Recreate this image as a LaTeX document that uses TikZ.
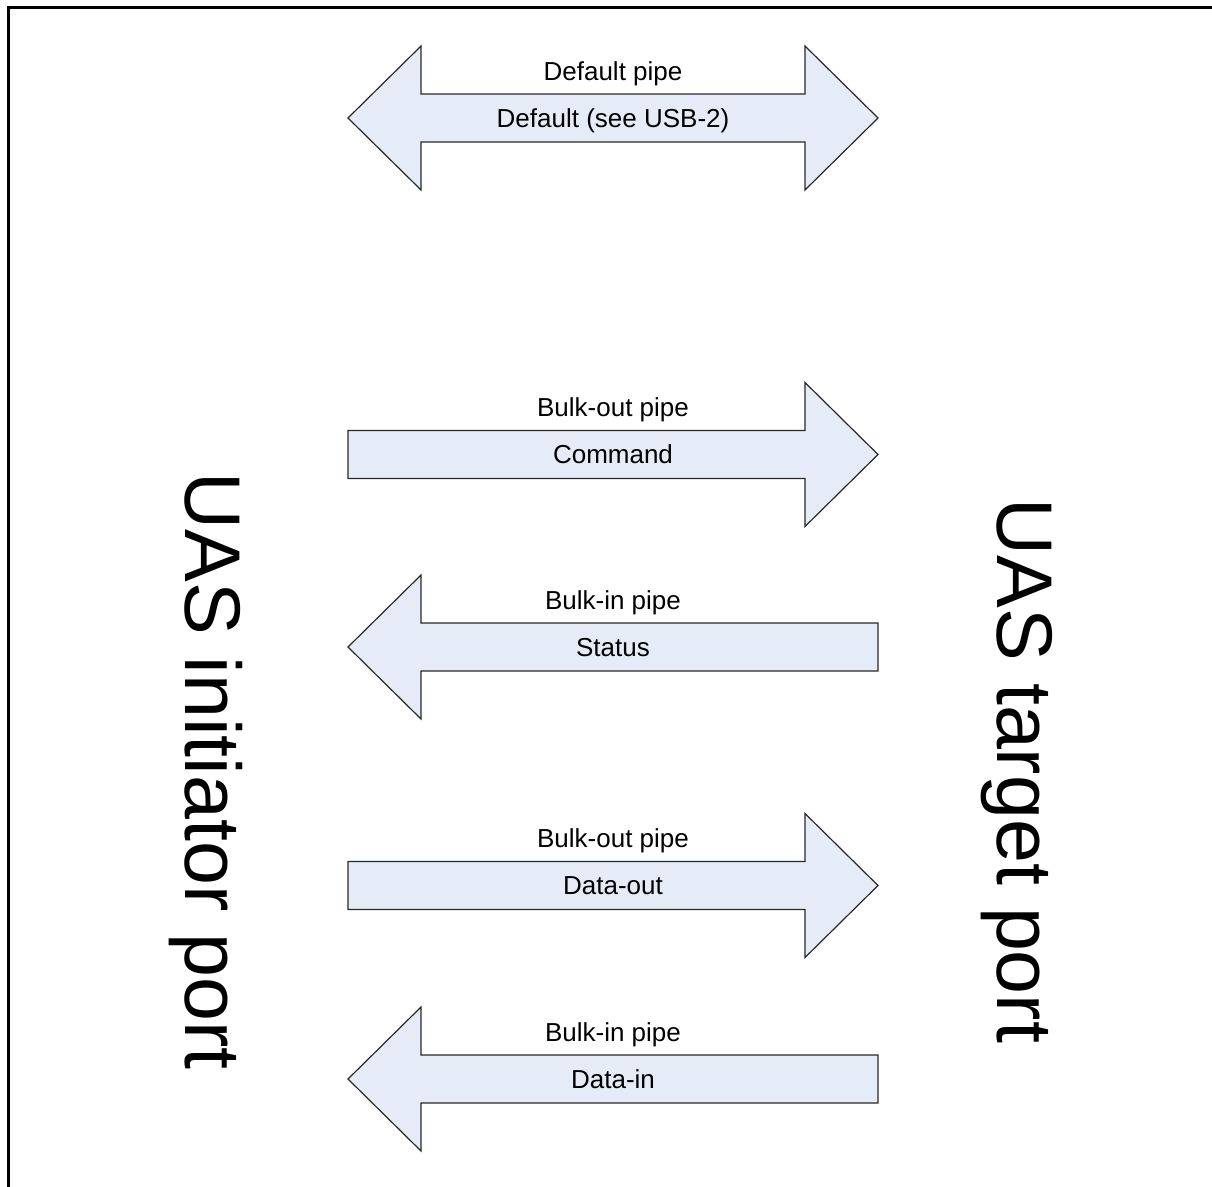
\documentclass[tikz,border=0pt]{standalone}
\usepackage{fontspec}
\setmainfont{Liberation Sans}
\definecolor{pipefill}{RGB}{230,236,247}
\definecolor{pipeline}{RGB}{40,40,40}
\begin{document}
\begin{tikzpicture}[x=1pt,y=-1pt,
  pipeshape/.style={fill=pipefill,draw=pipeline,line width=1.2pt,line join=miter},
  pipelabel/.style={anchor=base,inner sep=0pt,font=\fontsize{26}{30}\selectfont},
  portlabel/.style={anchor=base,inner sep=0pt,rotate=-90,font=\fontsize{79}{90}\selectfont},
  frameline/.style={line width=3pt},
  rarrow/.pic={\path[pipeshape] (-265,-24) -- (192,-24) -- (192,-72) -- (265,0)
      -- (192,72) -- (192,24) -- (-265,24) -- cycle;},
  larrow/.pic={\path[pipeshape] (265,-24) -- (-192,-24) -- (-192,-72) -- (-265,0)
      -- (-192,72) -- (-192,24) -- (265,24) -- cycle;},
  darrow/.pic={\path[pipeshape] (-265,0) -- (-192,-72) -- (-192,-24) -- (192,-24)
      -- (192,-72) -- (265,0) -- (192,72) -- (192,24) -- (-192,24) -- (-192,72) -- cycle;}
]
\useasboundingbox (0,0) rectangle (1212,1186);
% outer frame (only the top and left edges fall inside the page)
\draw[frameline] (8.5,1190) -- (8.5,7.5) -- (1215,7.5);

% pipes
\pic at (613,118) {darrow};
\node[pipelabel] (defname) at (613,80) {Default pipe};
\node[pipelabel] (deftext) at (613,127) {Default (see USB-2)};

\pic at (613,454.5) {rarrow};
\node[pipelabel] (cmdname) at (613,416.5) {Bulk-out pipe};
\node[pipelabel] (cmdtext) at (613,463.5) {Command};

\pic at (613,647) {larrow};
\node[pipelabel] (stsname) at (613,609) {Bulk-in pipe};
\node[pipelabel] (ststext) at (613,656) {Status};

\pic at (613,885.5) {rarrow};
\node[pipelabel] (doutname) at (613,847.5) {Bulk-out pipe};
\node[pipelabel] (douttext) at (613,894.5) {Data-out};

\pic at (613,1079) {larrow};
\node[pipelabel] (dinname) at (613,1041) {Bulk-in pipe};
\node[pipelabel] (dintext) at (613,1088) {Data-in};

% ports
\node[portlabel] (initiator) at (185,771) {UAS initiator port};
\node[portlabel] (target) at (997,771) {UAS target port};
\end{tikzpicture}
\end{document}
